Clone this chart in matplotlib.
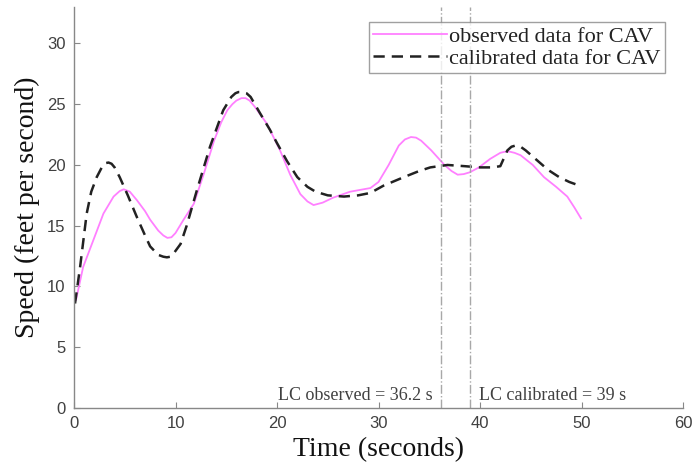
import matplotlib
matplotlib.use('Agg')
from matplotlib import pyplot as plt

# observed speed of the CAV
obs_t = [0.2, 0.9, 1.9, 2.9, 3.9, 4.5, 4.9, 5.5, 6.2, 7.0, 7.5, 8.3, 8.8, 9.2, 9.6, 10.0, 10.8, 11.8,
         12.8, 13.8, 14.5, 15.1, 15.6, 16.0, 16.5, 16.9, 17.3, 17.8, 19.0, 20.3, 21.3, 22.3, 23.0,
         23.6, 24.5, 25.5, 27.2, 29.2, 30.0, 31.0, 32.0, 32.6, 33.2, 33.7, 34.2, 35.2, 36.5,
         37.2, 37.8, 38.4, 39.0, 39.9, 41.0, 42.0, 42.5, 42.9, 43.4, 44.0, 45.2, 46.3, 47.5,
         48.6, 49.3, 49.95]
obs_v = [8.9, 11.6, 13.8, 16.0, 17.4, 17.85, 18.0, 17.8, 17.1, 16.2, 15.5, 14.6, 14.2, 14.0, 14.05, 14.4,
         15.5, 16.8, 19.3, 22.0, 23.5, 24.5, 25.0, 25.3, 25.5, 25.5, 25.3, 24.8, 23.4, 21.2, 19.2, 17.6,
         17.0, 16.7, 16.9, 17.3, 17.8, 18.1, 18.6, 20.0, 21.6, 22.1, 22.3, 22.25, 22.0, 21.2, 20.0,
         19.5, 19.2, 19.25, 19.4, 19.8, 20.5, 21.0, 21.1, 21.1, 21.0, 20.8, 20.0, 19.0, 18.2, 17.4,
         16.5, 15.6]

# calibrated model output
cal_t = [0.1, 0.6, 1.25, 1.7, 2.24, 2.8, 3.1, 3.4, 3.7, 4.0, 4.5, 5.3, 6.2, 7.0, 7.5, 8.3, 8.8,
         9.15, 9.5, 9.8, 10.5, 11.1, 12.1, 13.4, 14.7, 15.5, 15.9, 16.2, 16.6, 17.0, 17.4, 18.3,
         19.3, 20.0, 21.0, 22.0, 23.0, 23.8, 25.0, 26.6, 28.0, 29.2, 30.5, 32.5, 34.0, 35.1, 36.8,
         38.5, 40.0, 41.2, 42.0, 42.7, 43.1, 43.5, 44.0, 44.5, 45.6, 46.7, 47.8, 48.8, 49.8]
cal_v = [8.6, 11.6, 16.0, 17.8, 19.0, 19.9, 20.15, 20.2, 20.1, 19.8, 19.0, 17.5, 15.7, 14.2, 13.3,
         12.6, 12.45, 12.4, 12.45, 12.7, 13.5, 15.0, 17.9, 21.5, 24.5, 25.6, 25.9, 26.0, 26.0, 25.9,
         25.6, 24.3, 22.9, 21.8, 20.3, 19.0, 18.2, 17.8, 17.5, 17.4, 17.5, 17.7, 18.3, 19.0, 19.5,
         19.8, 20.0, 19.9, 19.8, 19.8, 19.9, 21.2, 21.5, 21.6, 21.5, 21.2, 20.4, 19.6, 19.0, 18.6, 18.3]

lc_obs = 36.2
lc_cal = 39.0

serif = ['Liberation Serif', 'DejaVu Serif']
sans = ['Liberation Sans', 'DejaVu Sans']

fig = plt.figure(figsize=(6.93, 4.67), dpi=100)
ax = fig.add_axes([74/693, 1-408/467, 609/693, 401/467])

ax.plot(obs_t, obs_v, color='#ff80ff', lw=1.3, label='observed data for CAV')
ax.plot(cal_t, cal_v, color='#222222', lw=1.8, dashes=(4.5, 2.8), label='calibrated data for CAV')

for x in [lc_obs, lc_cal]:
	ax.axvline(x, color='#a8a8a8', lw=1.0, ls='-.')

ax.text(lc_obs - 0.9, 0.35, 'LC observed = 36.2 s', ha='right', va='bottom',
		fontsize=13, family=serif, color='#404040')
ax.text(lc_cal + 0.9, 0.35, 'LC calibrated = 39 s', ha='left', va='bottom',
		fontsize=13, family=serif, color='#404040')

ax.set_xlim(0, 60)
ax.set_ylim(0, 33)
ax.set_xticks([0, 10, 20, 30, 40, 50, 60])
ax.set_yticks([0, 5, 10, 15, 20, 25, 30])

for s in ['top', 'right']:
	ax.spines[s].set_visible(False)
for s in ['left', 'bottom']:
	ax.spines[s].set_color('#888888')
	ax.spines[s].set_linewidth(1.0)

ax.tick_params(direction='in', length=4, color='#888888', labelcolor='#404040', labelsize=12, pad=6)
for lab in ax.get_xticklabels() + ax.get_yticklabels():
	lab.set_family(sans)

ax.set_xlabel('Time (seconds)', fontsize=20, family=serif, color='#111111', va='center')
ax.set_ylabel('Speed (feet per second)', fontsize=20, family=serif, color='#111111', va='center')
ax.xaxis.set_label_coords(0.5, -0.105)
ax.yaxis.set_label_coords(-0.076, 0.5)

leg = ax.legend(loc='upper right', bbox_to_anchor=(0.97, 0.963), prop={'family': serif, 'size': 16},
				frameon=True, fancybox=False, handlelength=3.3, handletextpad=0.1,
				borderpad=0.2, labelspacing=0.05, borderaxespad=0)
leg.get_frame().set_edgecolor('#888888')
leg.get_frame().set_linewidth(1.0)
for t in leg.get_texts():
	t.set_color('#222222')

fig.savefig('out.png', dpi=100)
